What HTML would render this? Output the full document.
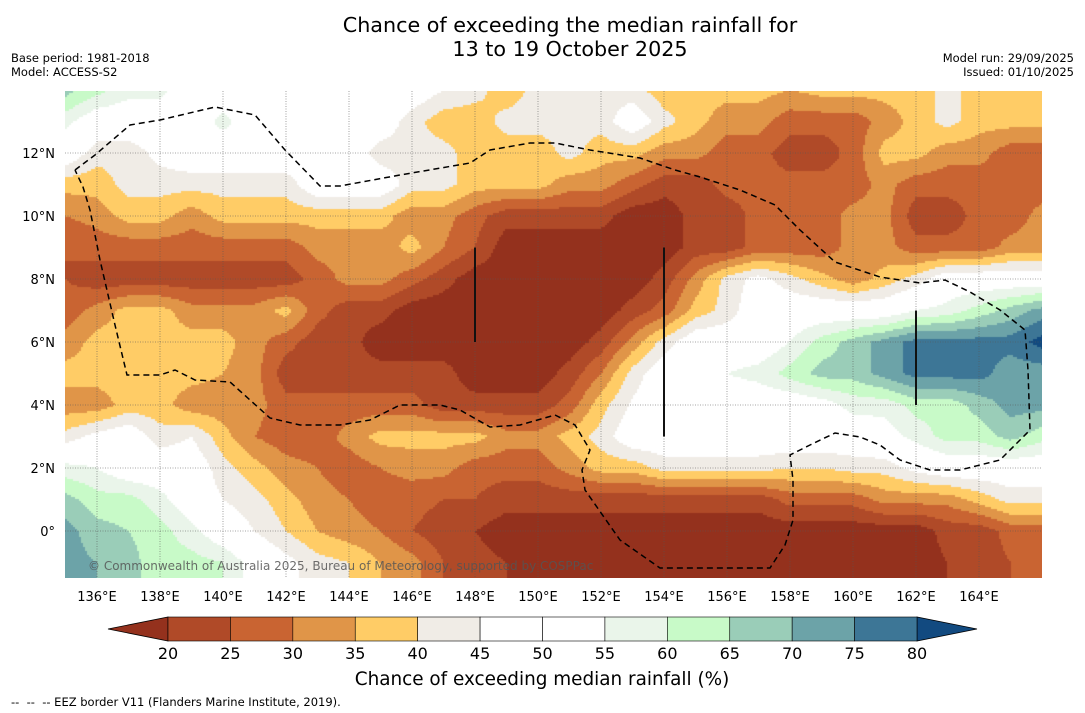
<!DOCTYPE html>
<html><head><meta charset="utf-8">
<style>
body{margin:0;background:#fff;width:1085px;height:713px;overflow:hidden;position:relative;font-family:"DejaVu Sans","Liberation Sans",sans-serif}
.t{position:absolute;white-space:nowrap;color:#000}
svg text{font-family:"DejaVu Sans","Liberation Sans",sans-serif}
</style></head><body>
<div class="t" style="left:0;width:1140px;text-align:center;top:14px;font-size:20.7px;line-height:23.5px">Chance of exceeding the median rainfall for<br>13 to 19 October 2025</div>
<div class="t" style="left:11px;top:51px;font-size:11.5px;line-height:14px">Base period: 1981-2018<br>Model: ACCESS-S2</div>
<div class="t" style="right:11px;top:51px;font-size:11.5px;line-height:14px;text-align:right">Model run: 29/09/2025<br>Issued: 01/10/2025</div>
<canvas id="map" width="977" height="487" style="position:absolute;left:65px;top:91px"></canvas>
<svg id="ov" width="1085" height="713" style="position:absolute;left:0;top:0"></svg>
<div class="t" style="left:11px;top:695px;font-size:11.5px">--&nbsp; --&nbsp; -- EEZ border V11 (Flanders Marine Institute, 2019).</div>
<script>
const lons=[135,136,137,138,139,140,141,142,143,144,145,146,147,148,149,150,151,152,153,154,155,156,157,158,159,160,161,162,163,164,165,166];
const lats=[14,13,12,11,10,9,8,7,6,5,4,3,2,1,0,-1,-2];
const r14=[67,62,57,57,50,50,50,50,50,50,50,50,45,42,37,42,42,42,42,37,37,37,37,35,37,37,37,37,42,37,37,37];
const r13=[57,50,50,50,50,57,50,50,50,50,50,42,37,37,42,42,42,42,50,42,37,32,32,27,27,27,32,37,42,37,37,37];
const r12=[50,42,42,47,50,50,50,50,50,50,42,42,42,37,37,37,42,37,37,32,32,27,27,22,22,27,37,37,32,32,27,27];
const r11=[37,37,42,42,42,42,42,42,50,50,50,42,42,37,37,37,32,32,27,22,22,27,27,27,27,27,32,27,27,27,27,27];
const r10=[30,32,37,37,32,37,37,37,37,37,37,32,32,27,22,22,22,22,17,17,22,22,27,27,27,32,32,22,22,27,27,32];
const r9=[25,27,27,27,27,27,27,27,32,32,32,37,30,25,17,17,17,17,17,17,22,22,27,27,27,32,32,27,27,27,32,32];
const r8=[25,22,22,22,22,22,22,22,27,32,32,27,22,17,17,17,17,17,17,22,32,42,47,42,37,32,37,42,50,50,50,50];
const r7=[27,32,37,37,32,32,32,37,27,22,22,17,17,17,17,17,17,17,22,27,37,42,50,50,50,50,50,55,57,62,67,72];
const r6=[32,37,37,37,37,37,32,27,22,22,17,17,17,17,17,17,17,22,32,42,50,50,50,55,62,67,72,77,77,77,77,82];
const r5=[37,37,40,37,37,35,32,22,22,22,22,22,22,17,17,17,22,30,42,50,50,55,57,62,67,67,72,77,77,77,72,72];
const r4=[32,32,37,37,32,32,32,27,27,27,27,27,22,22,22,22,27,38,46,50,50,50,50,50,52,57,57,62,62,67,72,72];
const r3=[42,47,50,42,45,37,30,27,27,32,37,37,37,37,32,32,37,42,50,50,50,50,50,50,50,50,52,57,62,62,67,62];
const r2=[57,55,50,50,50,42,37,32,30,27,30,32,32,27,27,27,32,37,37,42,42,42,42,40,40,42,42,47,50,50,50,50];
const r1=[67,62,62,57,50,45,42,37,32,30,27,27,25,25,22,22,22,22,22,22,22,22,22,27,27,27,32,32,32,37,42,42];
const r0=[72,67,65,62,57,50,45,40,35,32,30,25,22,20,17,17,17,17,17,17,17,17,17,17,17,17,17,17,22,22,27,27];
const rm1=[72,70,67,62,62,60,52,47,42,40,35,32,25,22,20,17,17,17,17,17,17,17,17,17,17,17,17,17,20,22,25,27];
const rm2=[72,70,67,62,62,60,52,47,42,40,35,32,25,22,20,17,17,17,17,17,17,17,17,17,17,17,17,17,20,22,25,27];
const grid=[r14,r13,r12,r11,r10,r9,r8,r7,r6,r5,r4,r3,r2,r1,r0,rm1,rm2];
const levels=[20,25,30,35,40,45,50,55,60,65,70,75,80];
const colors=["#94311d","#b04a28","#c96432","#e09548","#ffcc66","#f0ece6","#ffffff","#ffffff","#eaf5ea","#c8fac8","#9acdb8","#6ca3a8","#3d7696","#124a80"];
const lonTicks=[136,138,140,142,144,146,148,150,152,154,156,158,160,162,164];
const latTicks=[0,2,4,6,8,10,12];
const xOf=lon=>97+(lon-136)*31.5;
const yOf=lat=>531-lat*31.5;
const lonOf=x=>136+(x-97)/31.5;
const latOf=y=>(531-y)/31.5;
function cls(v){let i=0;while(i<levels.length&&v>=levels[i])i++;return i;}
function val(lon,lat){
  let fi=(lon-lons[0]);let fj=(lats[0]-lat);
  fi=Math.max(0,Math.min(lons.length-1.001,fi));fj=Math.max(0,Math.min(lats.length-1.001,fj));
  const i=Math.floor(fi),j=Math.floor(fj),a=fi-i,b=fj-j;
  return grid[j][i]*(1-a)*(1-b)+grid[j][i+1]*a*(1-b)+grid[j+1][i]*(1-a)*b+grid[j+1][i+1]*a*b;
}
const cv=document.getElementById('map'),ctx=cv.getContext('2d');
const S=2;
for(let py=0;py<487;py+=S){for(let px=0;px<977;px+=S){
  const v=val(lonOf(px+65+S/2),latOf(py+91+S/2));
  ctx.fillStyle=colors[cls(v)];ctx.fillRect(px,py,S,S);
}}
const NS='http://www.w3.org/2000/svg';
const ov=document.getElementById('ov');
function mk(t,a){const e=document.createElementNS(NS,t);for(const k in a)e.setAttribute(k,a[k]);ov.appendChild(e);return e;}
lonTicks.forEach(l=>{
  const g=mk('line',{x1:xOf(l),x2:xOf(l),y1:91,y2:578,stroke:'#555','stroke-width':0.8,'stroke-dasharray':'1 1.5','stroke-opacity':0.7});
  
  
  const t=mk('text',{x:xOf(l),y:601,'text-anchor':'middle','font-size':13,fill:'#000'});t.textContent=l+'°E';
  
  
});
latTicks.forEach(l=>{
  const g=mk('line',{x1:65,x2:1042,y1:yOf(l),y2:yOf(l),stroke:'#555','stroke-width':0.8,'stroke-dasharray':'1 1.5','stroke-opacity':0.7});
  
  
  const t=mk('text',{x:55,y:yOf(l)+5,'text-anchor':'end','font-size':13,fill:'#000'});t.textContent=l===0?'0°':l+'°N';
  
  
});
const eezPx=[[75,170],[95,155],[130,125],[160,120],[215,107],[255,115],[285,150],[320,186],[340,186],[400,175],[470,163],[490,150],[530,143],[555,143],[590,150],[640,158],[675,170],[700,177],[740,190],[775,205],[800,230],[835,262],[880,277],[920,283],[945,280],[970,292],[1000,310],[1025,330],[1028,370],[1030,430],[1020,440],[1000,460],[960,470],[930,470],[900,460],[880,445],[860,437],[835,433],[810,445],[790,455],[793,480],[793,520],[785,545],[770,568],[660,568],[620,540],[585,490],[582,470],[590,450],[575,425],[555,415],[520,425],[490,427],[460,410],[440,405],[400,405],[370,420],[340,425],[300,425],[270,418],[250,400],[230,382],[195,380],[175,370],[160,375],[127,375],[115,325],[100,260],[90,210],[83,187],[75,170]];
const eez=mk('polyline',{points:eezPx.map(p=>p.join(',')).join(' '),fill:'none',stroke:'#000','stroke-width':1.5,'stroke-dasharray':'6 4'});


[[148,9,6],[154,9,3],[162,7,4]].forEach(s=>{
  const l=mk('line',{x1:xOf(s[0]),x2:xOf(s[0]),y1:yOf(s[1]),y2:yOf(s[2]),stroke:'#111','stroke-width':2});
  
  
});
const cp=mk('text',{x:88,y:570,'font-size':12,fill:'#555','fill-opacity':0.85});cp.textContent='© Commonwealth of Australia 2025, Bureau of Meteorology, supported by COSPPac';


const cbx0=168,cbx1=917,cby=617,cbh=24,seg=(cbx1-cbx0)/12;
const lt=mk('polygon',{points:`${cbx0},${cby} ${cbx0},${cby+cbh} 108,${cby+cbh/2}`,fill:colors[0],stroke:'#000','stroke-width':0.8});


const rt=mk('polygon',{points:`${cbx1},${cby} ${cbx1},${cby+cbh} 977,${cby+cbh/2}`,fill:colors[13],stroke:'#000','stroke-width':0.8});


for(let i=0;i<12;i++){
  const r=mk('rect',{x:cbx0+i*seg,y:cby,width:seg,height:cbh,fill:colors[i+1],stroke:'#000','stroke-width':0.6});
  
  
}
levels.forEach((v,i)=>{
  const t=mk('text',{x:cbx0+i*seg,y:659,'text-anchor':'middle','font-size':16,fill:'#000'});t.textContent=v;
  
  
});
const cl=mk('text',{x:542,y:685,'text-anchor':'middle','font-size':18.4,fill:'#000'});cl.textContent='Chance of exceeding median rainfall (%)';


</script>
</body></html>
